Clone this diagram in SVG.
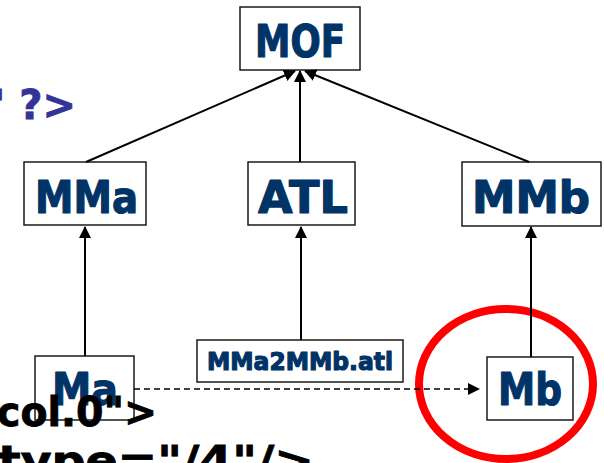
<svg xmlns="http://www.w3.org/2000/svg" width="604" height="463" viewBox="0 0 604 463">
<style>
.box{fill:#fff;stroke:#1a1a1a;stroke-width:1.5}
.lbl{font-family:"DejaVu Sans",Verdana,sans-serif;font-weight:bold;fill:#003366;stroke:#003366;stroke-width:1.2;stroke-linejoin:round;text-anchor:middle}
.edge{stroke:#000;stroke-width:2;fill:none}
.dash{stroke:#000;stroke-width:1.3;fill:none;stroke-dasharray:6,4}
.xml{font-family:"DejaVu Sans",Verdana,sans-serif;font-weight:bold;font-size:40px;stroke-width:0.8}
</style>
<defs>
<marker id="ah" markerUnits="userSpaceOnUse" markerWidth="12" markerHeight="12" viewBox="0 0 12 12" refX="11" refY="6" orient="auto">
<path d="M0,0 L12,6 L0,12 Z" fill="#000"/>
</marker>
</defs>
<rect width="604" height="463" fill="#fff"/>
<ellipse cx="506" cy="384" rx="87" ry="75" fill="none" stroke="#ff0000" stroke-width="8"/>
<g id="MOF"><rect class="box" x="240" y="7" width="120" height="63"/><text class="lbl" x="300" y="57" font-size="44" textLength="90" lengthAdjust="spacingAndGlyphs">MOF</text></g>
<g id="MMa"><rect class="box" x="24" y="162" width="122" height="63"/><text class="lbl" x="86.5" y="213" font-size="44" textLength="103" lengthAdjust="spacingAndGlyphs">MMa</text></g>
<g id="ATL"><rect class="box" x="248" y="162" width="107" height="63"/><text class="lbl" x="303" y="213" font-size="44" textLength="90" lengthAdjust="spacingAndGlyphs">ATL</text></g>
<g id="MMb"><rect class="box" x="462" y="162" width="139" height="64"/><text class="lbl" x="531" y="213" font-size="44" textLength="118" lengthAdjust="spacingAndGlyphs">MMb</text></g>
<g id="Ma"><rect class="box" x="35" y="356" width="99" height="64"/><text class="lbl" x="85" y="405" font-size="44" textLength="66" lengthAdjust="spacingAndGlyphs">Ma</text></g>
<g id="MMa2MMb"><rect class="box" x="197" y="340" width="206" height="42"/><text class="lbl" x="300" y="370" font-size="25" stroke-width="0.7" textLength="186" lengthAdjust="spacingAndGlyphs">MMa2MMb.atl</text></g>
<g id="Mb"><rect class="box" x="487" y="357" width="86" height="63"/><text class="lbl" x="530" y="405" font-size="44" textLength="64" lengthAdjust="spacingAndGlyphs">Mb</text></g>
<g id="connectors">
<line class="edge" x1="86" y1="162" x2="295" y2="71" marker-end="url(#ah)"/>
<line class="edge" x1="300" y1="162" x2="300" y2="71" marker-end="url(#ah)"/>
<line class="edge" x1="529" y1="162" x2="305" y2="71" marker-end="url(#ah)"/>
<line class="edge" x1="85" y1="356" x2="85" y2="227" marker-end="url(#ah)"/>
<line class="edge" x1="301" y1="340" x2="301" y2="227" marker-end="url(#ah)"/>
<line class="edge" x1="531" y1="357" x2="531" y2="227" marker-end="url(#ah)"/>
<line class="dash" x1="134" y1="389" x2="470" y2="389"/>
<path d="M468,383 L480,389 L468,395 Z" fill="#000"/>
</g>
<text class="xml" x="-7" y="119" fill="#333399" stroke="#333399" font-size="42">' ?&gt;</text>
<text class="xml" x="-3" y="426" fill="#000" stroke="#000" textLength="160" lengthAdjust="spacingAndGlyphs">col.0"&gt;</text>
<text class="xml" x="-2" y="475" fill="#000" stroke="#000" textLength="316" lengthAdjust="spacingAndGlyphs">type="/4"/&gt;</text>
</svg>
